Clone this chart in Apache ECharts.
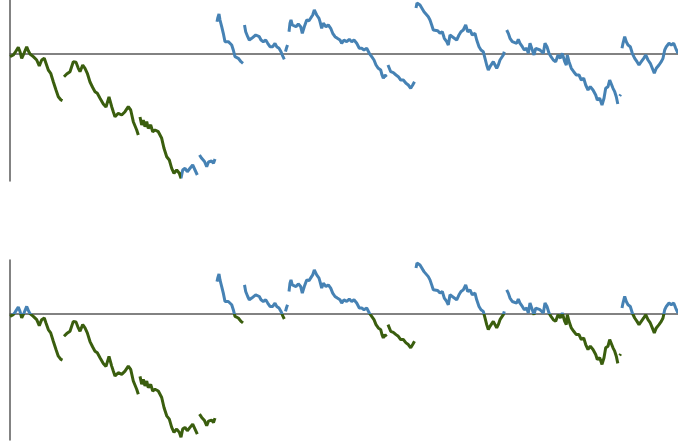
<!DOCTYPE html>
<html>
<head>
<meta charset="utf-8">
<script src="https://cdn.jsdelivr.net/npm/echarts@6/dist/echarts.min.js"></script>
<style>
  html, body { margin: 0; padding: 0; background: #fff; }
  #chart { width: 678px; height: 444px; }
</style>
</head>
<body>
<div id="chart"></div>
<script>
// Each run is an unbroken stretch of [day, value]; the gaps between runs are missing days.
const run1 = [[0,-2.7],[3.3,-1],[5,1.3],[6.7,0],[8.3,6.7],[10,2.3],[11.7,-4.3],[14,0.7],[16.7,7.3],[18.3,3.3],[20,0],[21.7,0.7],[23.3,-2.7],[25,-4.3],[26.7,-6],[29.3,-12],[31.7,-6],[34.3,-4.3],[36,-9.3],[38.3,-16],[40.7,-19.3],[43.3,-27.7],[46,-36],[48.3,-42.7],[51,-46],[52.5,-46.7]];
const run2 = [[54,-22.7],[56.7,-20],[60,-17.7],[61.7,-16],[63.3,-7.7],[66,-8.3],[68.3,-14.3],[70,-17.7],[72.7,-11],[75,-14.3],[77.3,-19.3],[80,-28],[82.7,-33.5],[85,-37.7],[87.3,-39.3],[90,-44.3],[93.3,-50],[96,-53],[99,-43],[101.7,-52.7],[103.3,-57.7],[105,-62.7],[108.3,-59.3],[111.7,-61],[115,-57.7],[118.3,-52.7],[120.7,-56],[123.3,-67.7],[126.7,-76],[128.3,-81]];
const run3 = [[130,-63],[131.7,-71],[133.3,-66],[135,-72.7],[136.7,-67.7],[138.3,-74.3],[140.7,-71],[142.7,-77.7],[145,-76],[148.3,-77.7],[150,-77.7],[151.7,-84.3],[154,-94.3],[156.7,-102.7],[159.3,-106],[161.7,-114.3],[164,-119.3],[166.7,-116],[169.3,-119.3],[171,-124.3],[172.7,-116],[175,-114.3],[177.3,-117.7],[180,-114.3],[182.7,-111],[185,-116],[187.3,-121]];
const run4 = [[189.5,-101],[191.7,-104.3],[194.5,-107.5],[196.7,-112.7],[198.5,-108],[201.5,-107],[203.5,-109.3],[205,-105]];
const run5 = [[207,32.3],[207.7,35.7],[209,40],[210,34],[211.7,27.3],[213.3,20.7],[215,12.3],[216.7,10.7],[218.3,12.3],[220,10.7],[221.7,9],[223.3,4],[225,-2.7],[226.7,-1],[228.3,-4.3],[229.3,-2.7],[231,-7.7],[233,-9.3]];
const run6 = [[234.5,29],[235.7,22.3],[237.7,17.3],[239.3,14],[241.7,15.7],[243.3,17.3],[245.7,19],[247.3,20.7],[249.3,17.3],[251,14],[253.3,12.3],[255.7,14],[257.7,10.7],[260,7.3],[262.7,7.3],[265,10.7],[266.7,7.3],[269,5.7],[271,2.3],[273,-2.7],[274.3,-5.3]];
const run7 = [[275.5,2.3],[276.5,6],[277.5,9]];
const run8 = [[279,22.3],[280,30.7],[281,34],[282.3,29],[284.3,30.7],[286,27.3],[288.3,30],[290.7,27.3],[292.3,20.7],[294.3,27.3],[296.7,34],[299,33.3],[301,34.7],[302.7,39],[304.3,44],[306.7,39],[309,35.7],[310,32.3],[311.7,25.7],[313.3,30.7],[316,27.3],[318.3,29],[320.7,25.7],[322.7,20.7],[325,17.3],[327.3,15.7],[330,14],[331.7,10.7],[334,14],[336.7,12.3],[339.3,14.7],[341.7,12.3],[344,14],[346.7,10.7],[349.3,5.7],[351.7,5.7],[354,4],[356.7,5.7],[359.3,0.7],[361.7,-2.7],[364,-6],[366,-11],[368.3,-14.3],[370.7,-16],[372,-21],[373.3,-24.3],[375,-21],[376.5,-23]];
const run9 = [[378,-11],[379.3,-12.7],[380.7,-17.7],[383.3,-18.7],[386,-21],[388.3,-22.7],[390.7,-26],[393.3,-26],[396,-29.3],[398.3,-31],[400.7,-34.3],[402.7,-31],[404.5,-27.7]];
const run10 = [[406,46],[407,51],[408.3,50.7],[410,49],[411.7,47.3],[414,42.3],[416,40.7],[418.3,37.3],[420,34],[421.7,29],[423.3,24],[425,22],[427.7,23.3],[430,20.7],[432.3,22.3],[434.3,15.7],[436.7,12.3],[438.3,9],[440,19],[442.3,17.3],[444.3,15.7],[446.7,14],[449,19],[451,22.3],[453.3,24],[455.7,29],[457.7,22.3],[460,24],[462.3,19],[465,20.7],[466.7,14],[469,7.3],[471,4],[473.3,2.3],[475,-4.3],[476.7,-11],[478.3,-16],[480,-12.7],[481.7,-14.3],[483.3,-7.7],[485,-11],[486.7,-14.3],[488.3,-11],[490,-6],[491.7,-4.3],[493.3,-1],[494.3,2.3]];
const run11 = [[496.7,24],[498.3,20.7],[500,15.7],[502.3,12.3],[504.3,14],[506.7,10.7],[508.3,14.7],[510,10.7],[512.3,7.3],[514.3,4],[516.7,5.7],[518.3,0.7],[520,10.7],[521.7,5.7],[524,-1],[525.7,5.7],[527.7,7.3],[530,4],[531.7,5.7],[533.3,0.7],[535,10.7],[537,7.3],[539,0.7],[541,-2.7],[543.3,-6],[545.7,-7.7],[548,-1],[550.3,-4.3],[552.3,0.7],[554.7,-7.7],[556.3,-11],[557.3,-1],[559,-7.7],[561.3,-14.3],[563.7,-17.7],[566.3,-21],[569,-21],[571.3,-26],[573.7,-24.3],[575.7,-31],[578,-36],[580.3,-32.7],[583,-36],[585.7,-41],[587.3,-46],[589.7,-44.3],[592,-51],[594,-44.3],[595.7,-34.3],[598,-32.7],[599.7,-26],[601.3,-27.7],[603,-34.3],[604.7,-37.7],[606.3,-42.7],[607.8,-50]];
const run12 = [[609.7,-42],[610.7,-40.5]];
const run13 = [[612,5.7],[613,10.7],[614.7,17.3],[616.3,12.3],[618,9],[620.3,7.3],[622.3,0.7],[624.7,-4.3],[627,-7.7],[629,-11],[631.3,-7.7],[633.7,-4.3],[635.7,-1],[638,-6],[640.3,-9.3],[642.3,-14.3],[644.3,-19.3],[646.3,-14.3],[649,-11],[651.3,-7.7],[653,-4.3],[654.7,4],[656.3,7.3],[659,10.7],[661.3,9],[663.7,10.7],[665.7,5.7],[668,0.7]];

const runs = [run1, run2, run3, run4, run5, run6, run7, run8, run9, run10, run11, run12, run13];

// Axis extents: days along x, value along y.
const dayMin = 0, dayMax = 668;
const valueMin = -127, valueMax = 54;

// Day at which the upper panel switches from the falling phase to the later phase.
const phaseBreak = 171.5;

const GREEN = '#3a5e0e';
const BLUE = '#4682b4';
const AXIS = '#5a5a5a';

// Join runs into one series, with an empty point between runs so the line breaks.
function joinRuns(list) {
  const out = [];
  list.forEach((r, i) => {
    if (i > 0) out.push(['-', '-']);
    r.forEach(p => out.push(p));
  });
  return out;
}
const series = joinRuns(runs);

const xBase = {
  type: 'value', min: dayMin, max: dayMax,
  axisLine: { show: true, onZero: true, lineStyle: { color: AXIS, width: 1.5 } },
  axisTick: { show: false }, axisLabel: { show: false }, splitLine: { show: false }
};
const yBase = {
  type: 'value', min: valueMin, max: valueMax,
  axisLine: { show: true, lineStyle: { color: AXIS, width: 1.5 } },
  axisTick: { show: false }, axisLabel: { show: false }, splitLine: { show: false }
};

const chart = echarts.init(document.getElementById('chart'), null, { renderer: 'canvas' });
chart.setOption({
  animation: false,
  grid: [
    { left: 10, right: 0, top: 0, height: 181 },
    { left: 10, right: 0, top: 260, height: 180 }
  ],
  xAxis: [Object.assign({ gridIndex: 0 }, xBase), Object.assign({ gridIndex: 1 }, xBase)],
  yAxis: [Object.assign({ gridIndex: 0 }, yBase), Object.assign({ gridIndex: 1 }, yBase)],
  visualMap: [
    {
      // upper panel: colour by phase (day)
      type: 'piecewise', show: false, seriesIndex: 0, dimension: 0,
      pieces: [
        { gte: dayMin - 1, lt: phaseBreak, color: GREEN },
        { gte: phaseBreak, lte: dayMax + 1, color: BLUE }
      ]
    },
    {
      // lower panel: colour by sign of the value
      type: 'piecewise', show: false, seriesIndex: 1, dimension: 1,
      pieces: [
        { gte: valueMin - 1, lt: 0, color: GREEN },
        { gte: 0, lte: valueMax + 1, color: BLUE }
      ]
    }
  ],
  series: [
    {
      type: 'line', xAxisIndex: 0, yAxisIndex: 0, data: series,
      symbol: 'none', connectNulls: false, lineStyle: { width: 3 }
    },
    {
      type: 'line', xAxisIndex: 1, yAxisIndex: 1, data: series,
      symbol: 'none', connectNulls: false, lineStyle: { width: 3 }
    }
  ]
});
</script>
</body>
</html>
